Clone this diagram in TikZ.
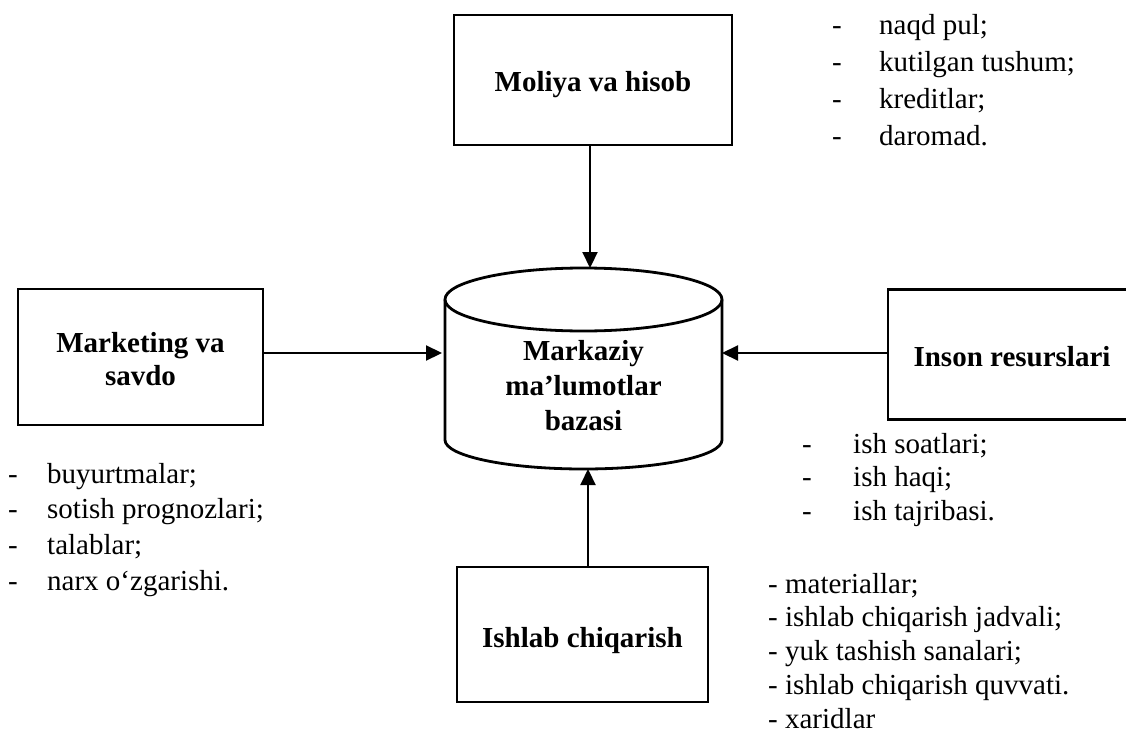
\documentclass[tikz,border=0pt]{standalone}
\usepackage{fontspec}
\setmainfont{Liberation Serif}
\usetikzlibrary{arrows.meta}
\begin{document}
\begin{tikzpicture}[x=1pt,y=-1pt,
  box/.style={draw, line width=2.8pt, inner sep=0pt},
  head/.style={font=\fontsize{29}{35}\selectfont\bfseries, inner sep=0pt, anchor=base},
  item/.style={font=\fontsize{29}{35}\selectfont, inner sep=0pt, anchor=base west},
  arr/.style={-{Triangle[length=16pt,width=15pt]}, line width=2.2pt}]
\useasboundingbox (0,0) rectangle (1126,733);
\fill[white] (0,0) rectangle (1126,733);
\clip (0,0) rectangle (1126,733);

% department boxes
\node[box, minimum width=278pt, minimum height=130pt] (moliya) at (593,80) {};
\node[box, minimum width=245pt, minimum height=136pt] (mark) at (140.5,357) {};
\node[box, minimum width=248pt, minimum height=130pt] (inson) at (1012,354.5) {};
\node[box, minimum width=251pt, minimum height=135pt] (ishlab) at (582.5,634.5) {};

\node[head] (moliyaT) at (593,92) {Moliya va hisob};
\node[head] (markT1) at (140.5,352) {Marketing va};
\node[head] (markT2) at (140.5,385) {savdo};
\node[head] (insonT) at (1012,366) {Inson resurslari};
\node[head] (ishlabT) at (582.5,647) {Ishlab chiqarish};

% central database cylinder (y axis points down, so angle 90 is the bottom)
\draw[line width=2.8pt] (583.5,299.5) ellipse [x radius=138.5, y radius=31.5];
\draw[line width=2.8pt] (445,299.5) -- (445,440)
  arc[start angle=180, end angle=0, x radius=138.5, y radius=29] -- (722,299.5);
\node[head] (dbT1) at (583.5,360) {Markaziy};
\node[head] (dbT2) at (583.5,395) {ma’lumotlar};
\node[head] (dbT3) at (583.5,430) {bazasi};
\coordinate (dbTop) at (590,268);
\coordinate (dbBot) at (588,469);
\coordinate (dbL) at (445,353);
\coordinate (dbR) at (722,353);

% data flows into the database
\draw[arr] (moliya.south -| dbTop) -- (dbTop);
\draw[arr, shorten >=3pt] (mark.east |- dbL) -- (dbL);
\draw[arr] (inson.west |- dbR) -- (dbR);
\draw[arr] (ishlab.north -| dbBot) -- (dbBot);

% data item lists
\foreach \t [count=\i from 0] in {naqd pul;, kutilgan tushum;, kreditlar;, daromad.} {
  \node[item] (fd\i) at (832,35+36.7*\i) {-};
  \node[item] (ft\i) at (879,35+36.7*\i) {\t};
}
\foreach \t [count=\i from 0] in {buyurtmalar;, sotish prognozlari;, talablar;, narx o‘zgarishi.} {
  \node[item] (md\i) at (8,483+35.7*\i) {-};
  \node[item] (mt\i) at (47,483+35.7*\i) {\t};
}
\foreach \t [count=\i from 0] in {ish soatlari;, ish haqi;, ish tajribasi.} {
  \node[item] (id\i) at (802,453+33.5*\i) {-};
  \node[item] (it\i) at (853,453+33.5*\i) {\t};
}
\foreach \t [count=\i from 0] in {materiallar;, ishlab chiqarish jadvali;, yuk tashish sanalari;, ishlab chiqarish quvvati., xaridlar} {
  \node[item] (pt\i) at (768,593+33.8*\i) {- \t};
}
\end{tikzpicture}
\end{document}
